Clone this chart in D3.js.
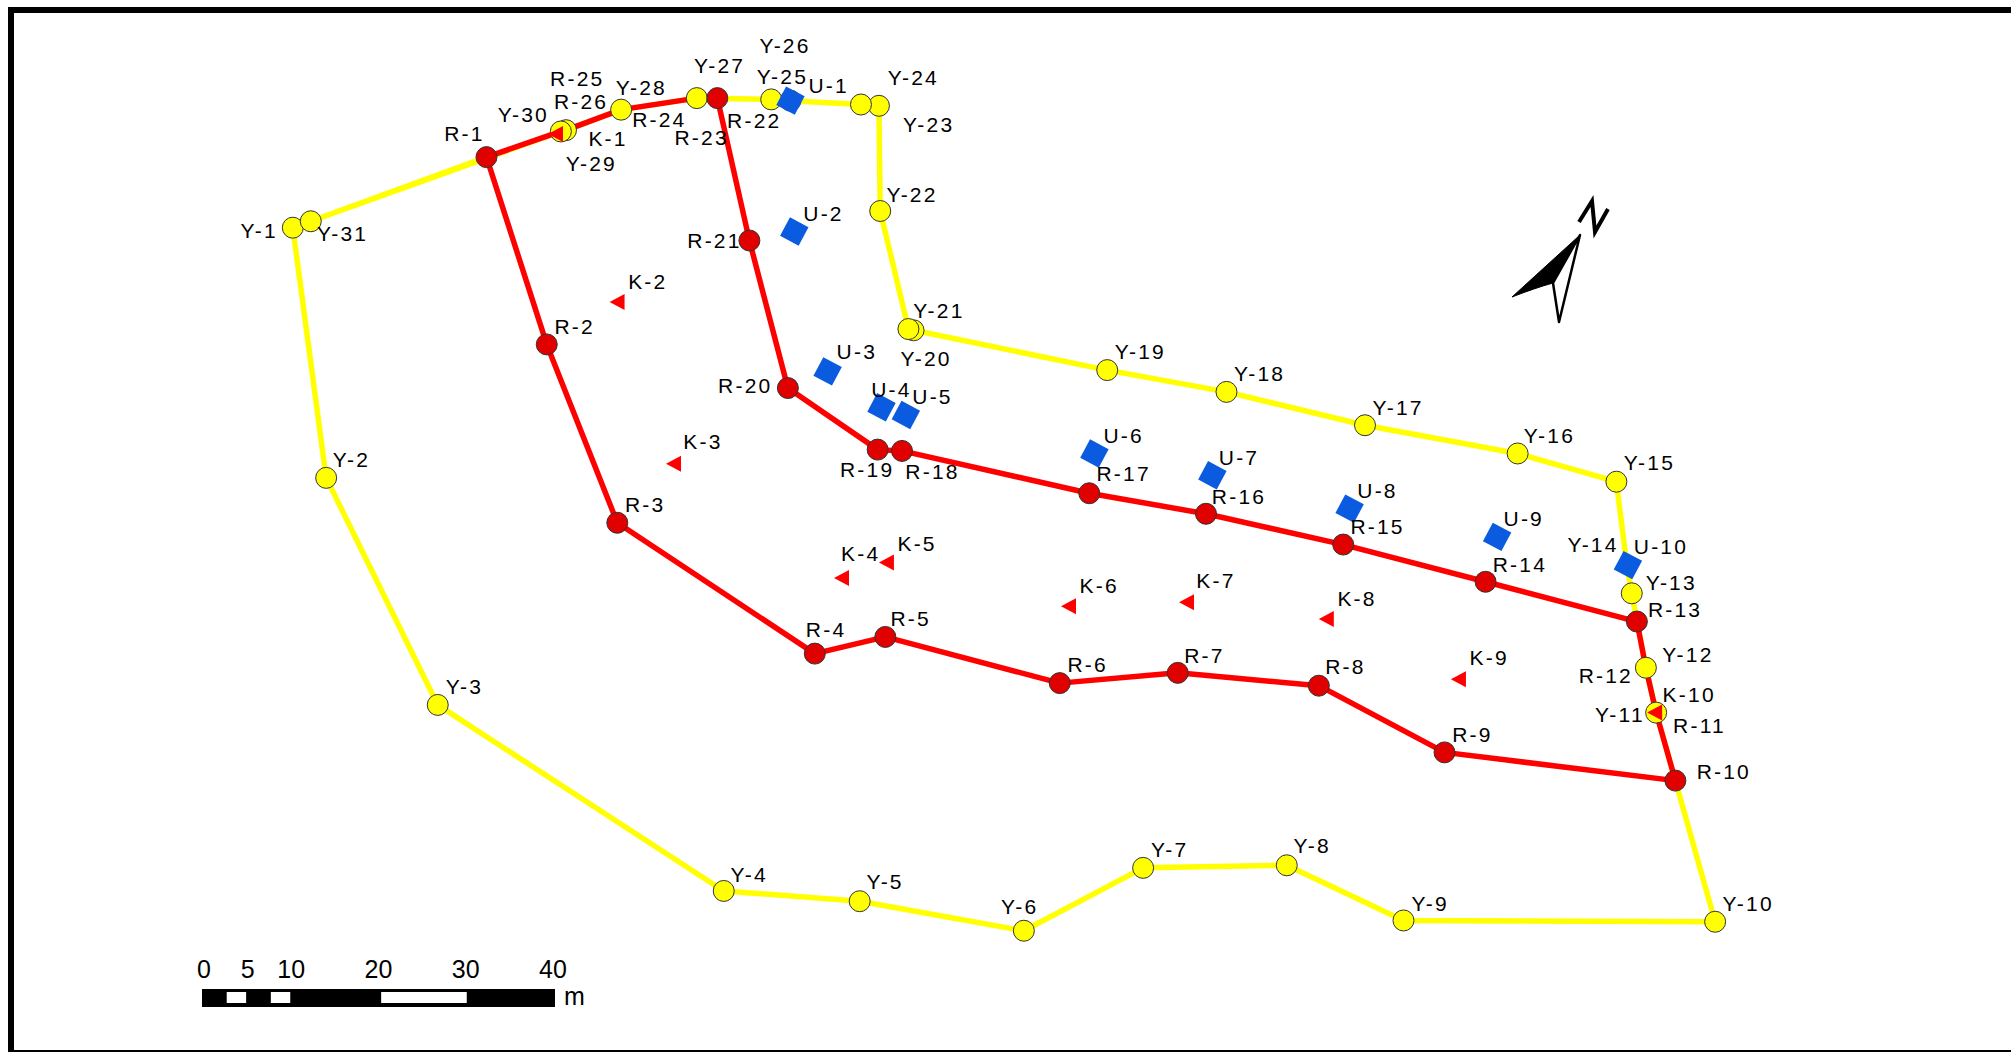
<!DOCTYPE html>
<html><head><meta charset="utf-8">
<style>html,body{margin:0;padding:0;background:#fff;overflow:hidden}svg{display:block}text{font-family:"Liberation Sans",Arial,sans-serif;fill:#000}</style>
<script src="https://cdn.jsdelivr.net/npm/d3@7"></script></head><body>
<script>
// Survey points, map units
const yellowPoints=[["Y-1",228,177],["Y-2",254,372],["Y-3",341,549],["Y-4",564,694],["Y-5",670,702],["Y-6",798,725],["Y-7",891,676],["Y-8",1003,674],["Y-9",1094,717],["Y-10",1337,718],["Y-11",1291,555],["Y-12",1283,520],["Y-13",1272,462],["Y-14",1268,439],["Y-15",1260,375],["Y-16",1183,353],["Y-17",1064,331],["Y-18",956,305],["Y-19",863,288],["Y-20",712,257],["Y-21",708,256],["Y-22",686,164],["Y-23",685,82],["Y-24",671,81],["Y-25",616,78],["Y-26",601,77],["Y-27",543,76],["Y-28",484,85],["Y-29",441,101],["Y-30",437,102],["Y-31",242,172]];
const redPoints=[["R-1",379,122],["R-2",426,268],["R-3",481,407],["R-4",635,509],["R-5",690,496],["R-6",826,532],["R-7",918,524],["R-8",1028,534],["R-9",1126,586],["R-10",1306,608],["R-11",1291,555],["R-12",1283,520],["R-13",1276,484],["R-14",1158,453],["R-15",1047,424],["R-16",940,400],["R-17",849,384],["R-18",703,351],["R-19",684,350],["R-20",614,302],["R-21",584,187],["R-22",559,76],["R-23",543,76],["R-24",484,85],["R-25",441,101],["R-26",437,102]];
const redUnderYellow=["R-11","R-12","R-23","R-24","R-25","R-26"];
const kPoints=[["K-1",434,104],["K-2",482,235],["K-3",526,361],["K-4",657,450],["K-5",692,438],["K-6",834,472],["K-7",926,469],["K-8",1035,482],["K-9",1138,529],["K-10",1291,555]];
const uPoints=[["U-1",616,78],["U-2",619,180],["U-3",645,289],["U-4",687,317],["U-5",706,323],["U-6",853,353],["U-7",945,370],["U-8",1052,396],["U-9",1167,418],["U-10",1269,440]];
const redClosing=["R-26","R-1"];
const yellowClosing=["Y-31","Y-1"];
// Label anchors, map units
const labelAnchors={"Y-1":[201,180],"Y-2":[273,359],"Y-3":[361,536],"Y-4":[583,682],"Y-5":[689,688],"Y-6":[794,707],"Y-7":[911,663],"Y-8":[1022,660],"Y-9":[1114,705],"Y-10":[1362,705],"Y-11":[1262,558],"Y-12":[1315,511],"Y-13":[1302,455],"Y-14":[1241,425],"Y-15":[1285,361],"Y-16":[1207,340],"Y-17":[1089,318],"Y-18":[981,292],"Y-19":[888,275],"Y-20":[721,280],"Y-21":[731,243],"Y-22":[710,152],"Y-23":[723,98],"Y-24":[711,61],"Y-25":[609,60],"Y-26":[611,36],"Y-27":[560,52],"Y-28":[499,69],"Y-29":[460,128],"Y-30":[407,90],"Y-31":[266,183],
"R-1":[361,105],"R-2":[447,255],"R-3":[502,394],"R-4":[643,491],"R-5":[709,483],"R-6":[847,519],"R-7":[938,512],"R-8":[1048,520],"R-9":[1147,573],"R-10":[1343,602],"R-11":[1324,566],"R-12":[1251,527],"R-13":[1305,476],"R-14":[1184,441],"R-15":[1073,411],"R-16":[965,388],"R-17":[875,370],"R-18":[726,368],"R-19":[675,367],"R-20":[580,301],"R-21":[556,188],"R-22":[587,95],"R-23":[546,108],"R-24":[513,94],"R-25":[449,62],"R-26":[452,80],
"K-1":[473,109],"K-2":[504,220],"K-3":[547,345],"K-4":[670,432],"K-5":[714,424],"K-6":[856,457],"K-7":[947,453],"K-8":[1057,467],"K-9":[1160,513],"K-10":[1316,542],
"U-1":[645,67],"U-2":[641,167],"U-3":[667,275],"U-4":[694,304],"U-5":[726,310],"U-6":[875,340],"U-7":[965,357],"U-8":[1073,383],"U-9":[1187,405],"U-10":[1294,427]};
const scaleTicks=[0,5,10,20,30,40];
const scaleWhite=[[2.8,5],[7.8,10],[20.3,30]];

const W=2011,H=1052;
const x=d3.scaleLinear().domain([0,1568]).range([0.4,W+0.4]);
const y=d3.scaleLinear().domain([0,820]).range([0.6,H+0.6]);
const svg=d3.select("body").append("svg").attr("width",W).attr("height",H);
const line=d3.line().x(d=>x(d[1])).y(d=>y(d[2]));

// Frame
svg.append("rect").attr("x",8).attr("y",7).attr("width",W-8).attr("height",6).attr("fill","#000");
svg.append("rect").attr("x",8).attr("y",7).attr("width",6).attr("height",H-7).attr("fill","#000");
svg.append("rect").attr("x",8).attr("y",1050).attr("width",W-8).attr("height",2).attr("fill","#000");

// Lines
const lineStyle=(sel,c)=>sel.attr("fill","none").attr("stroke",c).attr("stroke-width",5.5).attr("stroke-linejoin","round");
const closeY=yellowClosing.map(n=>yellowPoints.find(d=>d[0]===n));
const closeR=redClosing.map(n=>redPoints.find(d=>d[0]===n));
lineStyle(svg.append("path").attr("d",line(yellowPoints)+line(closeY)+line([closeY[0],redPoints[0]])),"#ffff00");
lineStyle(svg.append("path").attr("d",line(redPoints)+line(closeR)),"#ff0000");

// Markers
const circles=(data,fill)=>svg.append("g").selectAll("circle").data(data).join("circle")
 .attr("cx",d=>x(d[1])).attr("cy",d=>y(d[2])).attr("r",10.5).attr("fill",fill).attr("stroke","#333").attr("stroke-width",1);
circles(yellowPoints.filter(d=>d[0]!=="Y-14"),"#ffff00");
circles(redPoints.filter(d=>!redUnderYellow.includes(d[0])),"#e00000");
svg.append("g").selectAll("path").data(kPoints).join("path")
 .attr("d","M-9,0L6,-8L6,8Z").attr("transform",d=>`translate(${x(d[1])},${y(d[2])})`).attr("fill","#ff0000");
svg.append("g").selectAll("rect").data(uPoints).join("rect")
 .attr("x",-10.5).attr("y",-10.5).attr("width",21).attr("height",21).attr("fill","#0a5be0")
 .attr("transform",d=>`translate(${x(d[1])},${y(d[2])}) rotate(28)`);

// Labels
const allPoints=[...yellowPoints,...redPoints,...kPoints,...uPoints];
svg.append("g").selectAll("text").data(allPoints).join("text")
 .attr("x",d=>x(labelAnchors[d[0]][0])+1).attr("y",d=>y(labelAnchors[d[0]][1])+6)
 .attr("text-anchor","middle").attr("font-size",21).attr("letter-spacing",2.2).text(d=>d[0]);

// North arrow
svg.append("path").attr("d","M1580,235L1512,297Q1535,288 1553,283Q1568,262 1580,235Z").attr("fill","#000").attr("stroke","#000").attr("stroke-width",1);
svg.append("path").attr("d","M1580,235L1553,283L1559,322Z").attr("fill","#fff").attr("stroke","#000").attr("stroke-width",2.5).attr("stroke-linejoin","round");
svg.append("path").attr("d","M1579,222L1592,201L1595,232L1608,209").attr("fill","none").attr("stroke","#000").attr("stroke-width",4);

// Scale bar
const sb=d3.scaleLinear().domain([0,40]).range([202,555]);
const sbLabel=d3.scaleLinear().domain([0,40]).range([204,553]);
svg.append("rect").attr("x",sb(0)).attr("y",989).attr("width",sb(40)-sb(0)).attr("height",18).attr("fill","#000");
svg.append("g").selectAll("rect").data(scaleWhite).join("rect")
 .attr("x",d=>sb(d[0])).attr("y",992).attr("width",d=>sb(d[1])-sb(d[0])).attr("height",11).attr("fill","#fff");
svg.append("g").selectAll("text").data(scaleTicks).join("text")
 .attr("x",d=>sbLabel(d)).attr("y",978).attr("text-anchor","middle").attr("font-size",25).text(d=>d);
svg.append("text").attr("x",564).attr("y",1005).attr("font-size",25).text("m");
</script></body></html>
